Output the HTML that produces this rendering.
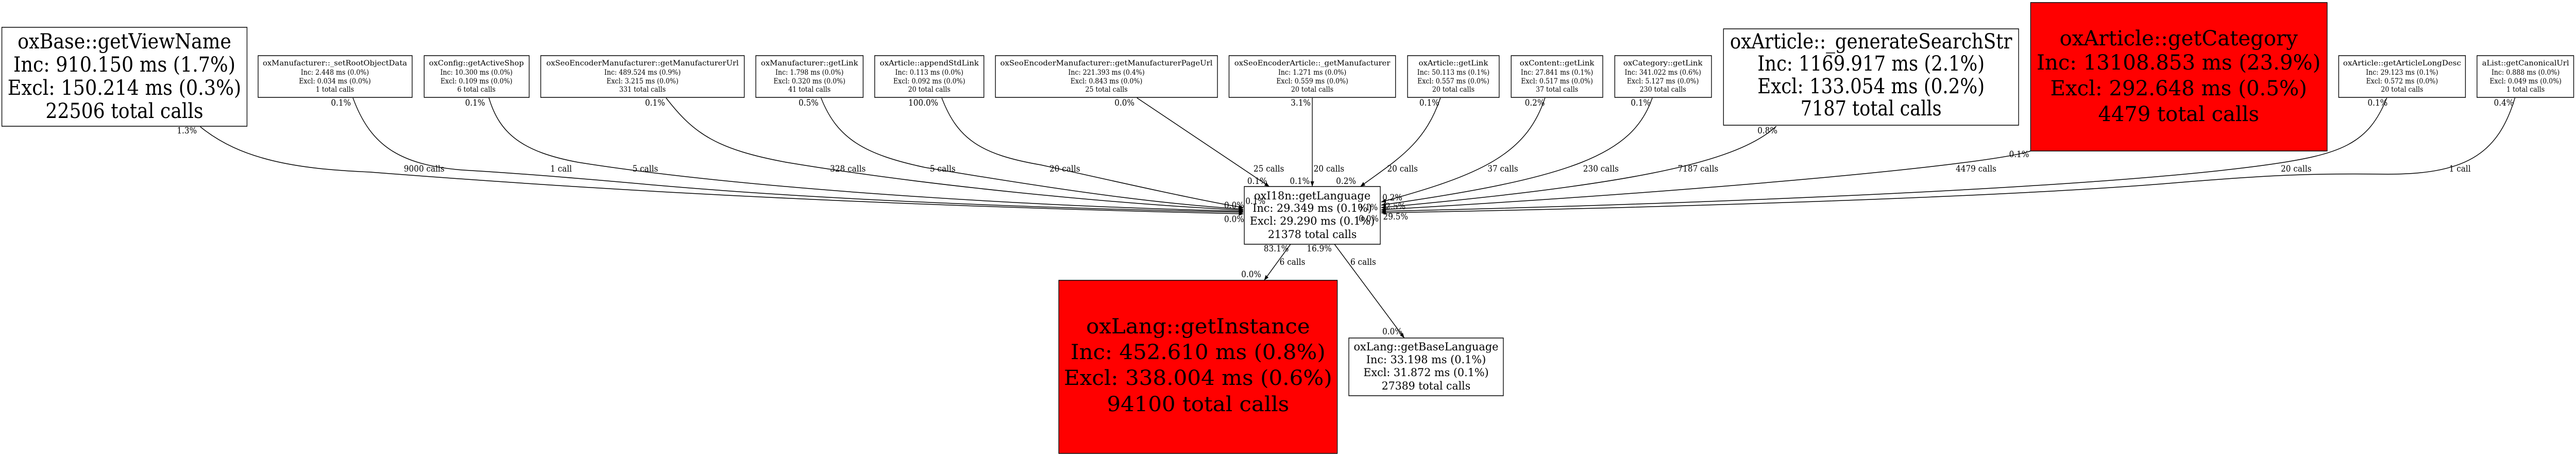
<!DOCTYPE html>
<html><head><meta charset="utf-8"><style>
html,body{margin:0;padding:0;background:#fff;width:100vw;height:100vh;overflow:hidden}
svg{display:block;position:absolute;left:0;top:0;width:100vw;height:100vh}
svg text{font-family:"DejaVu Serif","Liberation Serif",serif;fill:#000}
.s{font-size:14px}.m{font-size:21px}.b{font-size:40px}.l{font-size:17px}
</style></head><body>
<svg viewBox="0 0 5569 885" preserveAspectRatio="none" xmlns="http://www.w3.org/2000/svg">
<defs><marker id="a" viewBox="0 0 10 10" refX="10" refY="5" markerWidth="10" markerHeight="10" markerUnits="userSpaceOnUse" orient="auto"><path d="M0,1 L10,5 L0,9 z" fill="#000"/></marker></defs>
<g fill="none" stroke="#000" stroke-width="1.5" marker-end="url(#a)">
<path d="M433,246 C520,310 640,328 800,334 C1100,355 1700,395 2688,415"/>
<path d="M763,190 C800,280 860,320 1000,330 C1150,338 1300,350 1400,358 C1800,390 2300,405 2688,412"/>
<path d="M1057,190 C1080,260 1130,295 1250,315 C1600,365 2200,400 2688,410"/>
<path d="M1440,190 C1500,260 1550,290 1700,315 C2000,360 2400,395 2688,408"/>
<path d="M1775,190 C1810,270 1870,300 2000,325 C2300,370 2500,395 2688,406"/>
<path d="M2036,190 C2070,270 2120,300 2250,320 C2450,360 2600,390 2688,403"/>
<path d="M2458,190 L2744,362"/>
<path d="M2837,190 L2837,362"/>
<path d="M3114,190 C3080,280 3020,310 2941,362"/>
<path d="M3340,190 C3300,300 3200,340 2986,392"/>
<path d="M3572,190 C3530,300 3400,345 2986,398"/>
<path d="M3840,245 C3750,320 3500,360 2986,403"/>
<path d="M4390,293 C4300,320 3700,370 2986,407"/>
<path d="M5160,190 C5120,280 5060,300 4900,320 C4500,370 3500,400 2986,410"/>
<path d="M5437,190 C5400,300 5330,340 5150,338 C5000,336 4900,340 4700,355 C4300,385 3500,405 2986,413"/>
<path d="M2790,474 L2733,544"/>
<path d="M2885,474 L3036,656"/>
</g>
<g stroke="#000" stroke-width="1.5">
<rect x="4" y="53" width="530" height="192" fill="#fff"/>
<rect x="3726" y="56" width="638" height="187" fill="#fff"/>
<rect x="4390" y="5" width="641" height="288" fill="#f00"/>
<rect x="2289" y="544" width="602" height="336" fill="#f00"/>
<rect x="2690" y="362" width="294" height="112" fill="#fff"/>
<rect x="2916" y="656" width="334" height="112" fill="#fff"/>
<rect x="558" y="108" width="333" height="81" fill="#fff"/>
<rect x="917" y="108" width="227" height="81" fill="#fff"/>
<rect x="1169" y="108" width="440" height="81" fill="#fff"/>
<rect x="1634" y="108" width="232" height="81" fill="#fff"/>
<rect x="1891" y="108" width="236" height="81" fill="#fff"/>
<rect x="2152" y="108" width="480" height="81" fill="#fff"/>
<rect x="2657" y="108" width="360" height="81" fill="#fff"/>
<rect x="3043" y="108" width="198" height="81" fill="#fff"/>
<rect x="3267" y="108" width="198" height="81" fill="#fff"/>
<rect x="3491" y="108" width="209" height="81" fill="#fff"/>
<rect x="5056" y="108" width="274" height="81" fill="#fff"/>
<rect x="5355" y="108" width="209" height="81" fill="#fff"/>
</g>
<g text-anchor="middle">
<g class="b">
<text x="269" y="94" textLength="462" lengthAdjust="spacingAndGlyphs">oxBase::getViewName</text>
<text x="269" y="139" textLength="480" lengthAdjust="spacingAndGlyphs">Inc: 910.150 ms (1.7%)</text>
<text x="269" y="184" textLength="505" lengthAdjust="spacingAndGlyphs">Excl: 150.214 ms (0.3%)</text>
<text x="269" y="229" textLength="341" lengthAdjust="spacingAndGlyphs">22506 total calls</text>
<text x="4045" y="94" textLength="610" lengthAdjust="spacingAndGlyphs">oxArticle::_generateSearchStr</text>
<text x="4045" y="137" textLength="491" lengthAdjust="spacingAndGlyphs">Inc: 1169.917 ms (2.1%)</text>
<text x="4045" y="181" textLength="491" lengthAdjust="spacingAndGlyphs">Excl: 133.054 ms (0.2%)</text>
<text x="4045" y="224" textLength="305" lengthAdjust="spacingAndGlyphs">7187 total calls</text>
<text x="4710" y="88" textLength="515" lengthAdjust="spacingAndGlyphs">oxArticle::getCategory</text>
<text x="4710" y="135" textLength="614" lengthAdjust="spacingAndGlyphs">Inc: 13108.853 ms (23.9%)</text>
<text x="4710" y="185" textLength="555" lengthAdjust="spacingAndGlyphs">Excl: 292.648 ms (0.5%)</text>
<text x="4710" y="235" textLength="348" lengthAdjust="spacingAndGlyphs">4479 total calls</text>
<text x="2590" y="647" textLength="484" lengthAdjust="spacingAndGlyphs">oxLang::getInstance</text>
<text x="2590" y="697" textLength="551" lengthAdjust="spacingAndGlyphs">Inc: 452.610 ms (0.8%)</text>
<text x="2590" y="747" textLength="580" lengthAdjust="spacingAndGlyphs">Excl: 338.004 ms (0.6%)</text>
<text x="2590" y="798" textLength="394" lengthAdjust="spacingAndGlyphs">94100 total calls</text>
</g>
<g class="m">
<text x="2837" y="387" textLength="252" lengthAdjust="spacingAndGlyphs">oxI18n::getLanguage</text>
<text x="2837" y="411" textLength="258" lengthAdjust="spacingAndGlyphs">Inc: 29.349 ms (0.1%)</text>
<text x="2837" y="436" textLength="270" lengthAdjust="spacingAndGlyphs">Excl: 29.290 ms (0.1%)</text>
<text x="2837" y="462" textLength="192" lengthAdjust="spacingAndGlyphs">21378 total calls</text>
<text x="3083" y="680" textLength="313" lengthAdjust="spacingAndGlyphs">oxLang::getBaseLanguage</text>
<text x="3083" y="705" textLength="259" lengthAdjust="spacingAndGlyphs">Inc: 33.198 ms (0.1%)</text>
<text x="3083" y="730" textLength="271" lengthAdjust="spacingAndGlyphs">Excl: 31.872 ms (0.1%)</text>
<text x="3083" y="756" textLength="192" lengthAdjust="spacingAndGlyphs">27389 total calls</text>
</g>
<g class="s">
<text x="724" y="127" textLength="312" lengthAdjust="spacingAndGlyphs">oxManufacturer::_setRootObjectData</text><text x="724" y="145">Inc: 2.448 ms (0.0%)</text><text x="724" y="162">Excl: 0.034 ms (0.0%)</text><text x="724" y="178">1 total calls</text>
<text x="1030" y="127" textLength="205" lengthAdjust="spacingAndGlyphs">oxConfig::getActiveShop</text><text x="1030" y="145">Inc: 10.300 ms (0.0%)</text><text x="1030" y="162">Excl: 0.109 ms (0.0%)</text><text x="1030" y="178">6 total calls</text>
<text x="1389" y="127" textLength="416" lengthAdjust="spacingAndGlyphs">oxSeoEncoderManufacturer::getManufacturerUrl</text><text x="1389" y="145">Inc: 489.524 ms (0.9%)</text><text x="1389" y="162">Excl: 3.215 ms (0.0%)</text><text x="1389" y="178">331 total calls</text>
<text x="1750" y="127" textLength="210" lengthAdjust="spacingAndGlyphs">oxManufacturer::getLink</text><text x="1750" y="145">Inc: 1.798 ms (0.0%)</text><text x="1750" y="162">Excl: 0.320 ms (0.0%)</text><text x="1750" y="178">41 total calls</text>
<text x="2009" y="127" textLength="214" lengthAdjust="spacingAndGlyphs">oxArticle::appendStdLink</text><text x="2009" y="145">Inc: 0.113 ms (0.0%)</text><text x="2009" y="162">Excl: 0.092 ms (0.0%)</text><text x="2009" y="178">20 total calls</text>
<text x="2392" y="127" textLength="459" lengthAdjust="spacingAndGlyphs">oxSeoEncoderManufacturer::getManufacturerPageUrl</text><text x="2392" y="145">Inc: 221.393 ms (0.4%)</text><text x="2392" y="162">Excl: 0.843 ms (0.0%)</text><text x="2392" y="178">25 total calls</text>
<text x="2837" y="127" textLength="337" lengthAdjust="spacingAndGlyphs">oxSeoEncoderArticle::_getManufacturer</text><text x="2837" y="145">Inc: 1.271 ms (0.0%)</text><text x="2837" y="162">Excl: 0.559 ms (0.0%)</text><text x="2837" y="178">20 total calls</text>
<text x="3142" y="127" textLength="150" lengthAdjust="spacingAndGlyphs">oxArticle::getLink</text><text x="3142" y="145">Inc: 50.113 ms (0.1%)</text><text x="3142" y="162">Excl: 0.557 ms (0.0%)</text><text x="3142" y="178">20 total calls</text>
<text x="3366" y="127" textLength="161" lengthAdjust="spacingAndGlyphs">oxContent::getLink</text><text x="3366" y="145">Inc: 27.841 ms (0.1%)</text><text x="3366" y="162">Excl: 0.517 ms (0.0%)</text><text x="3366" y="178">37 total calls</text>
<text x="3595" y="127" textLength="171" lengthAdjust="spacingAndGlyphs">oxCategory::getLink</text><text x="3595" y="145">Inc: 341.022 ms (0.6%)</text><text x="3595" y="162">Excl: 5.127 ms (0.0%)</text><text x="3595" y="178">230 total calls</text>
<text x="5193" y="127" textLength="255" lengthAdjust="spacingAndGlyphs">oxArticle::getArticleLongDesc</text><text x="5193" y="145">Inc: 29.123 ms (0.1%)</text><text x="5193" y="162">Excl: 0.572 ms (0.0%)</text><text x="5193" y="178">20 total calls</text>
<text x="5460" y="127" textLength="188" lengthAdjust="spacingAndGlyphs">aList::getCanonicalUrl</text><text x="5460" y="145">Inc: 0.888 ms (0.0%)</text><text x="5460" y="162">Excl: 0.049 ms (0.0%)</text><text x="5460" y="178">1 total calls</text>
</g>
<g class="l">
<text x="404" y="259">1.3%</text><text x="737" y="205">0.1%</text><text x="1027" y="205">0.1%</text><text x="1416" y="205">0.1%</text>
<text x="1748" y="205">0.5%</text><text x="1996" y="205">100.0%</text><text x="2431" y="205">0.0%</text><text x="2812" y="205">3.1%</text>
<text x="3090" y="205">0.1%</text><text x="3318" y="205">0.2%</text><text x="3547" y="205">0.1%</text><text x="3821" y="259">0.8%</text>
<text x="4365" y="305">0.1%</text><text x="5140" y="205">0.1%</text><text x="5413" y="205">0.4%</text>
<text x="917" y="333">9000 calls</text><text x="1213" y="333">1 call</text><text x="1395" y="333">5 calls</text>
<text x="1833" y="333">328 calls</text><text x="2038" y="333">5 calls</text><text x="2302" y="333">20 calls</text>
<text x="2743" y="333">25 calls</text><text x="2873" y="333">20 calls</text><text x="3032" y="333">20 calls</text>
<text x="3249" y="333">37 calls</text><text x="3461" y="333">230 calls</text><text x="3671" y="333">7187 calls</text>
<text x="4272" y="333">4479 calls</text><text x="4964" y="333">20 calls</text><text x="5318" y="333">1 call</text>
<text x="2718" y="357">0.1%</text><text x="2810" y="357">0.1%</text><text x="2910" y="357">0.2%</text>
<text x="2668" y="404">0.0%</text><text x="2714" y="396">0.1%</text><text x="2668" y="431">0.0%</text>
<text x="3010" y="389">0.2%</text><text x="3017" y="406">2.5%</text><text x="3017" y="426">29.5%</text>
<text x="2957" y="408">0.1%</text><text x="2959" y="430">0.0%</text>
<text x="2759" y="488">83.1%</text><text x="2852" y="488">16.9%</text>
<text x="2794" y="514">6 calls</text><text x="2947" y="514">6 calls</text>
<text x="2705" y="538">0.0%</text><text x="3010" y="649">0.0%</text>
</g>
</g>
</svg>
</body></html>
